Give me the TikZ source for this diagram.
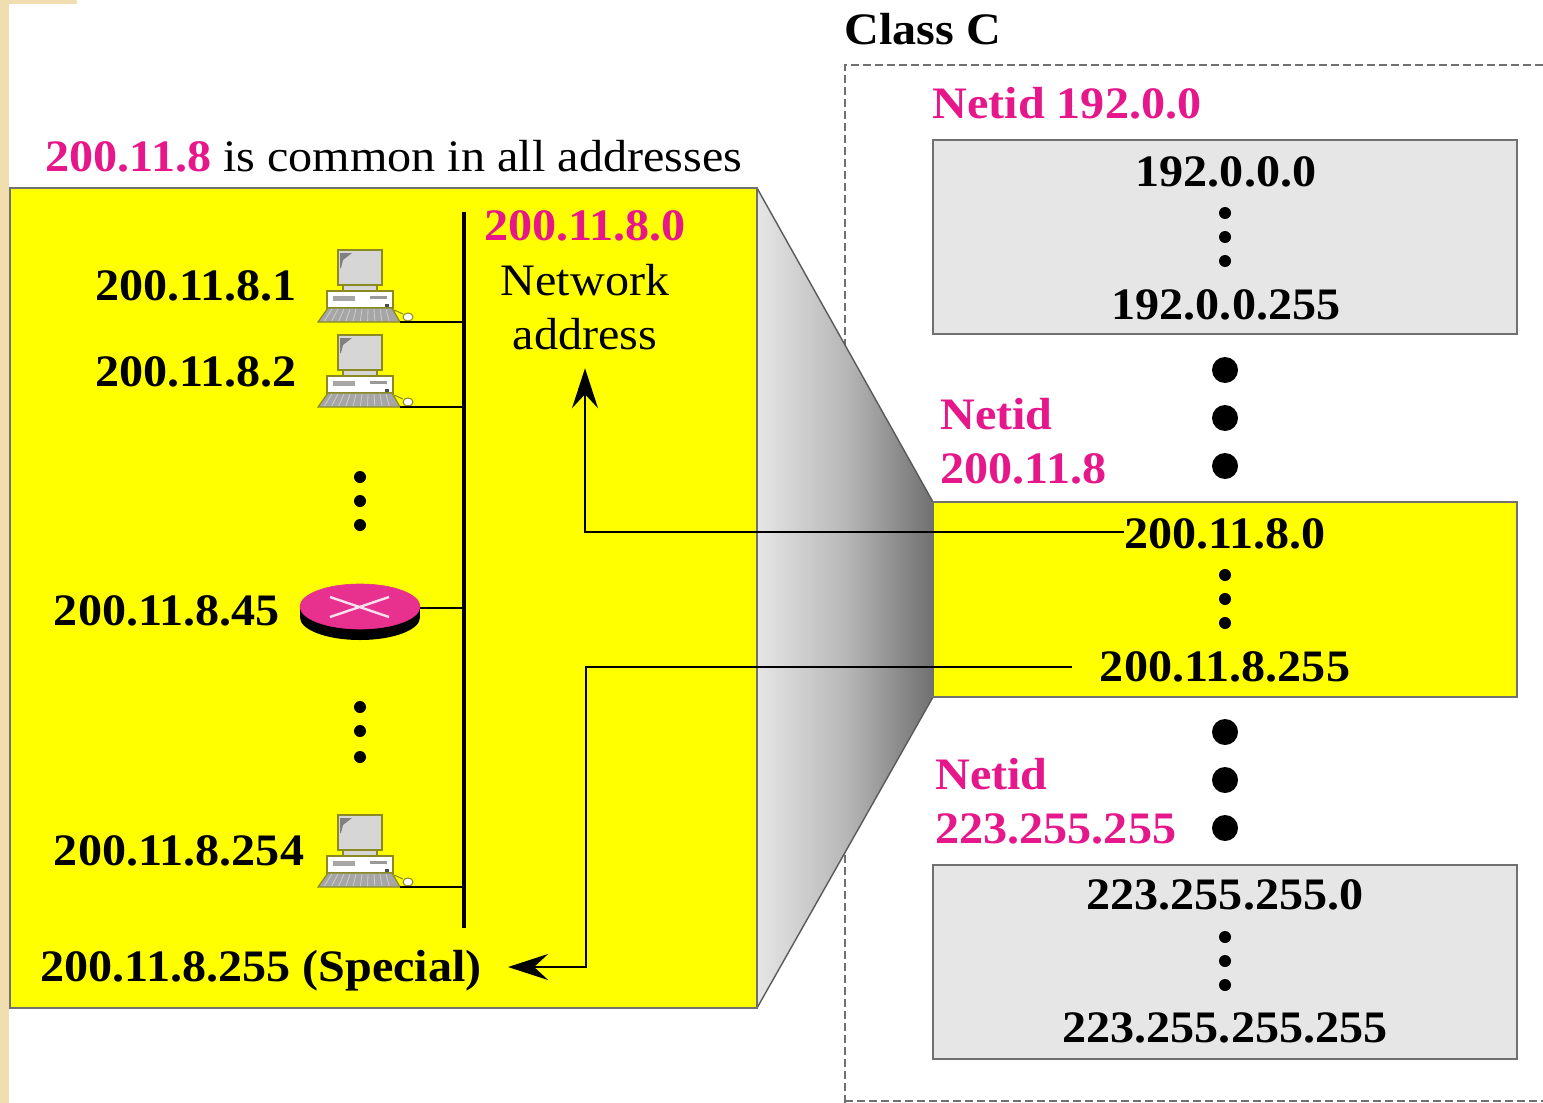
\documentclass[tikz,border=0pt]{standalone}
\usepackage{fontspec}
\setmainfont[FakeStretch=1.07]{Liberation Serif}
\usetikzlibrary{arrows.meta,calc}
\definecolor{pinkt}{HTML}{E5178A}
\definecolor{rpink}{HTML}{E8308F}
\definecolor{beige}{HTML}{F0DEB0}
\definecolor{boxg}{HTML}{E6E6E6}
\definecolor{edgeg}{HTML}{707070}
\definecolor{yel}{HTML}{FFFF00}
\definecolor{pcg}{HTML}{D6D6D6}
\definecolor{pce}{HTML}{8A8A20}
\tikzset{
 lab/.style={font=\fontsize{22.5}{26}\selectfont\bfseries,inner sep=0pt,text=black},
 plab/.style={lab,text=pinkt},
 reg/.style={font=\fontsize{22.5}{26}\selectfont,inner sep=0pt,text=black},
 box/.style={draw=edgeg,line width=0.7pt},
 conn/.style={line width=0.7pt,black},
 tip/.style={-{Stealth[length=20pt,width=13pt,inset=7pt]}},
}
\newcommand{\computer}[3]{%
 \begin{scope}[shift={(#1,#2)}]
  \draw[pce,fill=pcg,line width=0.9pt] (20,0) rectangle (64,35);
  \fill[gray] (22,3) -- (34,3) -- (25,10) -- (23,18) -- (22,18) -- cycle;
  \draw[pce,fill=pcg,line width=0.6pt] (25,35) rectangle (59,41);
  \draw[pce,fill=white,line width=0.8pt] (9,41) rectangle (75,58);
  \fill[gray!70] (15,46) rectangle (37,51);
  \fill[gray!80] (52,46) rectangle (69,49);
  \fill[black!70] (67,54) rectangle (71,57);
  \draw[pce,fill=gray!70,line width=0.6pt] (10,58) -- (74,58) -- (82,72) -- (0,72) -- cycle;
  \foreach \kx in {14,20,...,68}
    \draw[white!60!gray,line width=0.4pt] (\kx,59) -- ({\kx-2-(42-\kx)*0.2},71);
  \draw[pce,line width=0.5pt] (76,60) -- (85,64);
  \draw[pce,fill=white,line width=0.5pt] (90,67) ellipse (5 and 4);
  \coordinate (#3) at (82,72);
 \end{scope}}
\begin{document}
\begin{tikzpicture}[x=0.5pt,y=-0.5pt]
\useasboundingbox (0,0) rectangle (1543,1103);
\fill[white] (0,0) rectangle (1543,1103);
\fill[beige] (0,0) rectangle (9,1103);
\fill[beige] (0,0) rectangle (77,4);
% class C outline
\draw[edgeg,line width=0.8pt,dash pattern=on 4pt off 2pt] (845,1103) -- (845,65) -- (1543,65);
\draw[edgeg,line width=0.8pt,dash pattern=on 4pt off 2pt] (845,1101) -- (1543,1101);
% funnel
\shade[left color=boxg,right color=edgeg,middle color=black!28] (757,188) -- (933,502) -- (933,697) -- (757,1008) -- cycle;
\draw[edgeg!80!black,line width=0.7pt] (757,188) -- (933,502) (933,697) -- (757,1008);
% boxes
\draw[box,fill=yel] (10,188) rectangle (757,1008);
\draw[box,fill=boxg] (933,140) rectangle (1517,334);
\draw[box,fill=yel] (933,502) rectangle (1517,697);
\draw[box,fill=boxg] (933,865) rectangle (1517,1059);
% texts
\node[lab] (classc) at (923,29) {Class C};
\node[anchor=west,reg] (common) at (45,156) {\textcolor{pinkt}{\textbf{200.11.8}} is common in all addresses};
\node[plab] (netid1) at (1067,103) {Netid 192.0.0};
\node[lab] (a1) at (1226,172) {192.0.0.0};
\node[lab] (a2) at (1226,305) {192.0.0.255};
\node[plab,anchor=west] (netid2a) at (940,414) {Netid};
\node[plab,anchor=west] (netid2b) at (940,469) {200.11.8};
\node[lab] (t0) at (1225,534) {200.11.8.0};
\node[lab] (t255) at (1225,667) {200.11.8.255};
\node[plab,anchor=west] (netid3a) at (935,774) {Netid};
\node[plab,anchor=west] (netid3b) at (935,829) {223.255.255};
\node[lab] (a3) at (1225,895) {223.255.255.0};
\node[lab] (a4) at (1225,1028) {223.255.255.255};
\node[plab] (net0) at (585,226) {200.11.8.0};
\node[reg] (netw) at (585,280) {Network};
\node[reg] (addr) at (585,334) {address};
\node[lab] (h1) at (196,286) {200.11.8.1};
\node[lab] (h2) at (196,372) {200.11.8.2};
\node[lab] (h45) at (167,611) {200.11.8.45};
\node[lab] (h254) at (179,851) {200.11.8.254};
\node[lab] (special) at (261,971) {200.11.8.255 (Special)};
% bus
\coordinate (bust) at (464,212);
\coordinate (busb) at (464,928);
\draw[black,line width=2.3pt] (bust) -- (busb);
% hosts
\computer{318}{250}{pc1}
\computer{318}{335}{pc2}
\computer{318}{815}{pc3}
\draw[conn] (pc1) -- (pc1 -| bust);
\draw[conn] (pc2) -- (pc2 -| bust);
\draw[conn] (pc3) -- (pc3 -| bust);
% router
\fill[black] (360,617.5) ellipse (60 and 22.5);
\fill[black] (300,606.5) rectangle (420,617.5);
\draw[rpink,fill=rpink,line width=0.3pt] (360,606.5) ellipse (60 and 22.5);
\draw[white!85!rpink,line width=1.2pt] (330,597) -- (389,617) (330,617) -- (389,597);
\coordinate (rt) at (420,608);
\draw[conn] (rt) -- (rt -| bust);
% dots
\foreach \px/\py in {360/477,360/501,360/525,360/707,360/731,360/757,1225/213,1225/237,1225/261,1225/575,1225/599,1225/623,1225/937,1225/961,1225/985}
  \fill[black] (\px,\py) circle (6);
\foreach \py in {370,418,466,732,780,828}
  \fill[black] (1225,\py) circle (13);
% connectors
\coordinate (sp) at ([yshift=2pt]special.east);
\draw[conn,tip,shorten >=9pt] ([yshift=1pt]t0.west) -| (addr.south);
\draw[conn,tip,shorten <=14pt,shorten >=13pt] (t255.west) -| ($(sp)+(104,0)$) -- (sp);
\end{tikzpicture}
\end{document}
